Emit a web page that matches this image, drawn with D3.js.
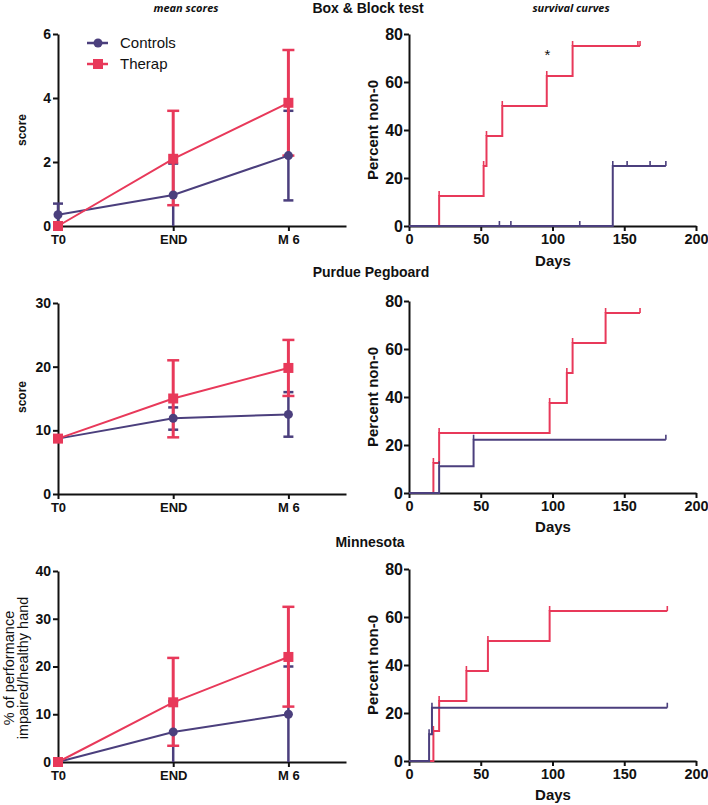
<!DOCTYPE html>
<html>
<head>
<meta charset="utf-8">
<script src="https://cdn.jsdelivr.net/npm/d3@7"></script>
<style>
  html, body { margin: 0; padding: 0; background: #fff; }
  svg { display: block; font-family: "Liberation Sans", Arial, sans-serif; }
</style>
</head>
<body>
<div id="chart"></div>
<script>
// --- data ---
const timepoints = ['T0', 'END', 'M6'];

// Box & Block mean scores
const boxCtrlMean = [0.35, 0.97, 2.2];
const boxCtrlLow  = [0, 0, 0.8];
const boxCtrlHigh = [0.7, 1.95, 3.6];
const boxTherMean = [0, 2.1, 3.85];
const boxTherLow  = [0, 0.65, 2.2];
const boxTherHigh = [0, 3.6, 5.5];

// Purdue Pegboard mean scores
const pegCtrlMean = [8.7, 11.9, 12.5];
const pegCtrlLow  = [8.7, 10.1, 9.0];
const pegCtrlHigh = [8.7, 13.6, 16.0];
const pegTherMean = [8.7, 15.0, 19.8];
const pegTherLow  = [8.7, 8.9, 15.4];
const pegTherHigh = [8.7, 21.0, 24.2];

// Minnesota (% impaired/healthy hand)
const minCtrlMean = [0, 6.3, 10];
const minCtrlLow  = [0, 0, 0];
const minCtrlHigh = [0, 12.7, 20];
const minTherMean = [0, 12.5, 22];
const minTherLow  = [0, 3.4, 11.6];
const minTherHigh = [0, 21.8, 32.5];

// survival curves: [day, percent non-0]
const boxCtrlSteps = [[0, 0], [142, 25], [179, 25]];
const boxCtrlTicks = [[63, 0], [71, 0], [119, 0], [142, 25], [152, 25], [168, 25], [179, 25]];
const boxTherSteps = [[0, 0], [21, 12.5], [52, 25], [54, 37.5], [65, 50], [96, 62.5], [114, 75], [161, 75]];
const boxTherTicks = [[21, 12.5], [52, 25], [54, 37.5], [65, 50], [96, 62.5], [114, 75], [159.5, 75], [161, 75]];

const pegCtrlSteps = [[0, 0], [21, 11.1], [45, 22.2], [179, 22.2]];
const pegCtrlTicks = [[21, 11.1], [45, 22.2], [179, 22.2]];
const pegTherSteps = [[0, 0], [17, 12.5], [21, 25], [98, 37.5], [110, 50], [114, 62.5], [137, 75], [161, 75]];
const pegTherTicks = [[17, 12.5], [21, 25], [98, 37.5], [110, 50], [114, 62.5], [137, 75], [161, 75]];

const minCtrlSteps = [[0, 0], [14, 11.1], [16, 22.2], [180, 22.2]];
const minCtrlTicks = [[14, 11.1], [16, 22.2], [180, 22.2]];
const minTherSteps = [[0, 0], [17, 12.5], [21, 25], [40, 37.5], [55, 50], [98, 62.5], [180, 62.5]];
const minTherTicks = [[17, 12.5], [21, 25], [40, 37.5], [55, 50], [98, 62.5], [180, 62.5]];

const boxStar = [96.5, 73];

const RED = '#e8395a';
const BLUE = '#4b3f7d';

const svg = d3.select('#chart').append('svg')
    .attr('width', 708)
    .attr('height', 805);

function styleAxis(g, fontSize) {
    g.selectAll('path.domain').attr('stroke', '#111').attr('stroke-width', 2);
    g.selectAll('.tick line').attr('stroke', '#111').attr('stroke-width', 2);
    g.selectAll('.tick text')
        .attr('fill', '#111')
        .attr('font-size', fontSize + 'px')
        .attr('font-weight', 'bold')
        .attr('font-family', '"Liberation Sans", Arial, sans-serif');
}

function meanPanel(top, bottom, yMax, yTicks, ctrl, ther) {
    const x = d3.scaleLinear().domain([0, 2.5]).range([58, 346]);
    const y = d3.scaleLinear().domain([0, yMax]).range([bottom, top]);
    const g = svg.append('g');

    const ax = g.append('g')
        .attr('transform', `translate(0,${bottom})`)
        .call(d3.axisBottom(x).tickValues([0, 1, 2])
            .tickFormat(i => i === 2 ? 'M 6' : timepoints[i])
            .tickSize(5).tickSizeOuter(0).tickPadding(4));
    styleAxis(ax, 13);

    const ay = g.append('g')
        .attr('transform', 'translate(58,0)')
        .call(d3.axisLeft(y).tickValues(yTicks).tickFormat(d3.format('d'))
            .tickSize(5).tickSizeOuter(0).tickPadding(2));
    styleAxis(ay, 14);

    const series = [
        { s: ctrl, color: BLUE, cap: 5, width: 2.5 },
        { s: ther, color: RED, cap: 6, width: 3 }
    ];

    // error bars
    series.forEach(({ s, color, cap, width }) => {
        timepoints.forEach((_, i) => {
            if (s.high[i] === s.low[i]) return;
            g.append('line')
                .attr('x1', x(i)).attr('x2', x(i))
                .attr('y1', y(s.low[i])).attr('y2', y(s.high[i]))
                .attr('stroke', color).attr('stroke-width', width);
            [s.low[i], s.high[i]].forEach(v => {
                if (v === 0) return;
                g.append('line')
                    .attr('x1', x(i) - cap).attr('x2', x(i) + cap)
                    .attr('y1', y(v)).attr('y2', y(v))
                    .attr('stroke', color).attr('stroke-width', 2.5);
            });
        });
    });

    const line = d3.line().x((d, i) => x(i)).y(d => y(d));

    // controls line + circles
    g.append('path').datum(ctrl.mean)
        .attr('fill', 'none').attr('stroke', BLUE).attr('stroke-width', 2)
        .attr('d', line);
    g.selectAll(null).data(ctrl.mean).enter().append('circle')
        .attr('cx', (d, i) => x(i)).attr('cy', d => y(d)).attr('r', 4.5)
        .attr('fill', BLUE);

    // therapy line + squares
    g.append('path').datum(ther.mean)
        .attr('fill', 'none').attr('stroke', RED).attr('stroke-width', 2)
        .attr('d', line);
    g.selectAll(null).data(ther.mean).enter().append('rect')
        .attr('x', (d, i) => x(i) - 5).attr('y', d => y(d) - 5)
        .attr('width', 10).attr('height', 10)
        .attr('fill', RED);

    return g;
}

function survivalPanel(top, bottom, ctrlSteps, ctrlTicks, therSteps, therTicks) {
    const x = d3.scaleLinear().domain([0, 200]).range([409, 696]);
    const y = d3.scaleLinear().domain([0, 80]).range([bottom, top]);
    const g = svg.append('g');

    const ax = g.append('g')
        .attr('transform', `translate(0,${bottom})`)
        .call(d3.axisBottom(x).tickValues([0, 50, 100, 150, 200])
            .tickSize(5).tickSizeOuter(0).tickPadding(3));
    styleAxis(ax, 14.5);

    const ay = g.append('g')
        .attr('transform', 'translate(409,0)')
        .call(d3.axisLeft(y).tickValues([0, 20, 40, 60, 80])
            .tickSize(5).tickSizeOuter(0).tickPadding(1));
    styleAxis(ay, 16);

    const step = d3.line().curve(d3.curveStepAfter)
        .x(d => x(d[0])).y(d => y(d[1]));

    [[therSteps, therTicks, RED], [ctrlSteps, ctrlTicks, BLUE]].forEach(([steps, ticks, color]) => {
        g.append('path').datum(steps)
            .attr('fill', 'none').attr('stroke', color).attr('stroke-width', 2)
            .attr('d', step);
        g.selectAll(null).data(ticks).enter().append('line')
            .attr('x1', d => x(d[0])).attr('x2', d => x(d[0]))
            .attr('y1', d => y(d[1])).attr('y2', d => y(d[1]) - 5)
            .attr('stroke', color).attr('stroke-width', 1.6);
    });

    return { g, x, y };
}

const mk = (mean, low, high) => ({ mean, low, high });

// --- panels ---
meanPanel(34, 226, 6, [0, 2, 4, 6],
    mk(boxCtrlMean, boxCtrlLow, boxCtrlHigh), mk(boxTherMean, boxTherLow, boxTherHigh));
meanPanel(303, 494, 30, [0, 10, 20, 30],
    mk(pegCtrlMean, pegCtrlLow, pegCtrlHigh), mk(pegTherMean, pegTherLow, pegTherHigh));
meanPanel(571, 762, 40, [0, 10, 20, 30, 40],
    mk(minCtrlMean, minCtrlLow, minCtrlHigh), mk(minTherMean, minTherLow, minTherHigh));

const boxSurv = survivalPanel(34, 226, boxCtrlSteps, boxCtrlTicks, boxTherSteps, boxTherTicks);
survivalPanel(301, 493, pegCtrlSteps, pegCtrlTicks, pegTherSteps, pegTherTicks);
survivalPanel(569, 761, minCtrlSteps, minCtrlTicks, minTherSteps, minTherTicks);

// significance star
svg.append('text')
    .attr('x', boxSurv.x(boxStar[0])).attr('y', boxSurv.y(boxStar[1]))
    .attr('dy', '0.62em')
    .attr('text-anchor', 'middle')
    .attr('font-size', '15px')
    .attr('fill', '#111')
    .text('*');

// --- legend ---
const legend = svg.append('g');
legend.append('line').attr('x1', 87).attr('x2', 108).attr('y1', 43).attr('y2', 43)
    .attr('stroke', BLUE).attr('stroke-width', 2.5);
legend.append('circle').attr('cx', 98).attr('cy', 43).attr('r', 4.5).attr('fill', BLUE);
legend.append('text').attr('x', 120).attr('y', 48).attr('font-size', '15px').attr('fill', '#111')
    .text('Controls');
legend.append('line').attr('x1', 87).attr('x2', 108).attr('y1', 64).attr('y2', 64)
    .attr('stroke', RED).attr('stroke-width', 2.5);
legend.append('rect').attr('x', 93).attr('y', 59).attr('width', 10).attr('height', 10).attr('fill', RED);
legend.append('text').attr('x', 120).attr('y', 69).attr('font-size', '15px').attr('fill', '#111')
    .text('Therap');

// --- titles and labels ---
function label(txt, x, y, opts = {}) {
    const t = svg.append('text')
        .attr('x', x).attr('y', y)
        .attr('text-anchor', opts.anchor || 'middle')
        .attr('font-size', (opts.size || 14) + 'px')
        .attr('font-weight', opts.weight || 'bold')
        .attr('fill', '#111')
        .text(txt);
    if (opts.italic) t.attr('font-style', 'italic').attr('font-family', '"Open Sans", sans-serif');
    if (opts.rotate) t.attr('transform', `rotate(-90,${x},${y})`);
    return t;
}

label('mean scores', 186, 12, { size: 11, italic: true });
label('survival curves', 571, 12, { size: 11, italic: true });
label('Box & Block test', 368, 13, { size: 14 });
label('Purdue Pegboard', 371, 277, { size: 14 });
label('Minnesota', 370, 547, { size: 14 });

label('Days', 553, 266, { size: 15 });
label('Days', 553, 532, { size: 15 });
label('Days', 553, 800, { size: 15 });

label('score', 26, 130, { size: 12, rotate: true });
label('score', 26, 397, { size: 12, rotate: true });
label('% of performance', 14, 668, { size: 14.5, weight: 'normal', rotate: true });
label('impaired/healthy hand', 28, 668, { size: 14.5, weight: 'normal', rotate: true });

label('Percent non-0', 378, 130, { size: 15, rotate: true });
label('Percent non-0', 378, 397, { size: 15, rotate: true });
label('Percent non-0', 378, 665, { size: 15, rotate: true });
</script>
</body>
</html>
